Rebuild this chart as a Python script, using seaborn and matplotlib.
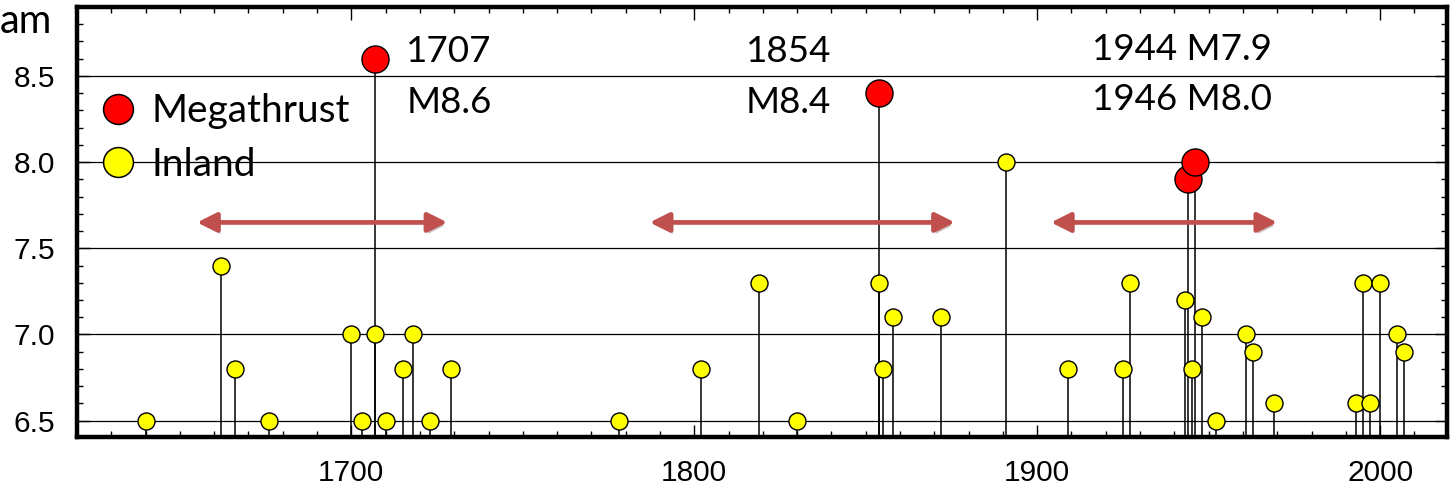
import matplotlib
matplotlib.use("Agg")
import matplotlib.pyplot as plt
import matplotlib.patheffects as pe
from matplotlib.lines import Line2D
from matplotlib.ticker import MultipleLocator
import seaborn as sns
import pandas as pd

# ---------------- data ----------------
inland_years = [1640, 1662, 1666, 1676, 1700, 1703, 1707, 1710, 1715, 1718, 1723, 1729,
                1778, 1802, 1819, 1830, 1854, 1855, 1858, 1872, 1891,
                1909, 1925, 1927, 1943, 1945, 1948, 1952, 1961, 1963, 1969,
                1993, 1995, 1997, 2000, 2005, 2007]
inland_mags = [6.5, 7.4, 6.8, 6.5, 7.0, 6.5, 7.0, 6.5, 6.8, 7.0, 6.5, 6.8,
               6.5, 6.8, 7.3, 6.5, 7.3, 6.8, 7.1, 7.1, 8.0,
               6.8, 6.8, 7.3, 7.2, 6.8, 7.1, 6.5, 7.0, 6.9, 6.6,
               6.6, 7.3, 6.6, 7.3, 7.0, 6.9]
mega_years = [1707, 1854, 1944, 1946]
mega_mags = [8.6, 8.4, 7.9, 8.0]

series_labels = ["Megathrust", "Inland"]
x_ticks = [1700, 1800, 1900, 2000]
y_ticks = [6.5, 7.0, 7.5, 8.0, 8.5]

# interval arrows (years) and their magnitude level
arrow_starts = [1655, 1787, 1904]
arrow_ends = [1728, 1876, 1970]
arrow_level = 7.65

# annotations
ann_1707 = ["1707", "M8.6"]
ann_1854 = ["1854", "M8.4"]
ann_1944 = ["1944 M7.9", "1946 M8.0"]

# ---------------- plot ----------------
sns.set_theme(style="white")
plt.rcParams["font.family"] = ["Liberation Sans", "DejaVu Sans"]
plt.rcParams["text.color"] = "black"

fig = plt.figure(figsize=(14.53, 4.86), dpi=100)
ax = fig.add_axes([77 / 1453, 49 / 486, 1370 / 1453, 430 / 486])

ymin, ymax = 6.405, 8.9
ax.set_xlim(1620, 2019.5)
ax.set_ylim(ymin, ymax)

df_in = pd.DataFrame({"year": inland_years, "mag": inland_mags, "kind": "Inland"})
df_me = pd.DataFrame({"year": mega_years, "mag": mega_mags, "kind": "Megathrust"})

# grid
for yt in y_ticks:
    ax.axhline(yt, color="black", lw=0.9, zorder=1)

# stems
ax.vlines(df_in["year"], ymin, df_in["mag"], color="black", lw=1.1, zorder=2)
ax.vlines(df_me["year"], ymin, df_me["mag"], color="black", lw=1.1, zorder=2)

sns.scatterplot(data=df_in, x="year", y="mag", color="#FFFF00", edgecolor="black",
                linewidth=1.0, s=150, ax=ax, zorder=4, legend=False)
sns.scatterplot(data=df_me, x="year", y="mag", color="#FF0000", edgecolor="black",
                linewidth=1.0, s=380, ax=ax, zorder=5, legend=False)

# arrows
for xs, xe in zip(arrow_starts, arrow_ends):
    ax.annotate("", xy=(xe, arrow_level), xytext=(xs, arrow_level),
                arrowprops=dict(arrowstyle="<|-|>", mutation_scale=29, lw=3.4,
                                color="#C0504D", shrinkA=0, shrinkB=0,
                                path_effects=[pe.SimplePatchShadow(offset=(1.5, -2.5), alpha=0.25),
                                              pe.Normal()]),
                zorder=3)

# annotation texts
afont = dict(family=["Lato", "DejaVu Sans"], fontsize=26.5, color="black")
ax.text(1716, 8.64, ann_1707[0], ha="left", va="center", **afont)
ax.text(1716, 8.345, ann_1707[1], ha="left", va="center", **afont)
ax.text(1827.5, 8.64, ann_1854[0], ha="center", va="center", **afont)
ax.text(1827.5, 8.345, ann_1854[1], ha="center", va="center", **afont)
ax.text(1942.3, 8.655, ann_1944[0], ha="center", va="center", **afont)
ax.text(1942.3, 8.365, ann_1944[1], ha="center", va="center", **afont)

# legend
handles = [
    Line2D([0], [0], marker="o", ls="none", markersize=21.5, markerfacecolor="#FF0000",
           markeredgecolor="black", markeredgewidth=1.1),
    Line2D([0], [0], marker="o", ls="none", markersize=21.5, markerfacecolor="#FFFF00",
           markeredgecolor="black", markeredgewidth=1.1),
]
leg = ax.legend(handles, series_labels, loc="upper left", bbox_to_anchor=(0.0158, 0.799),
                frameon=False, borderpad=0, borderaxespad=0, handlelength=1.0,
                handletextpad=0.37, labelspacing=0.44, labelcolor="black",
                prop=dict(family=["Lato", "DejaVu Sans"], size=28))
leg.set_zorder(6)

# ticks
ax.set_xticks(x_ticks)
ax.set_yticks(y_ticks)
ax.set_yticklabels([f"{v:.1f}" for v in y_ticks])
ax.xaxis.set_minor_locator(MultipleLocator(10))
ax.yaxis.set_minor_locator(MultipleLocator(0.1))
ax.tick_params(which="both", direction="in", top=True, right=True, bottom=True, left=True,
               colors="black", labelsize=21.5, width=1.0)
ax.tick_params(which="major", length=9)
ax.tick_params(which="minor", length=4)
ax.tick_params(axis="x", which="major", pad=16)
ax.tick_params(axis="y", which="major", pad=16)
ax.set_xlabel("")
ax.set_ylabel("")
for sp in ax.spines.values():
    sp.set_color("black")
    sp.set_linewidth(3.2)
    sp.set_visible(True)

# clipped title fragment at the top-left
fig.text(52 / 1453, 1 - 33 / 486, "am", ha="right", va="baseline", fontsize=28.5,
         family=["Lato", "DejaVu Sans"], color="black")

fig.savefig("out.png", dpi=100)
